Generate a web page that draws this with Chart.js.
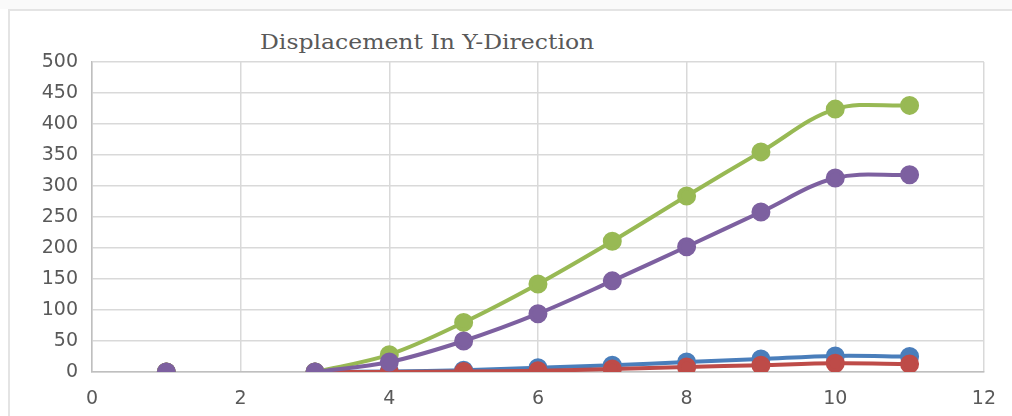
<!DOCTYPE html>
<html>
<head>
<meta charset="utf-8">
<script src="https://cdn.jsdelivr.net/npm/chart.js@4"></script>
<style>
  html, body { margin: 0; padding: 0; background: #fff; }
  #wrap { position: relative; width: 1012px; height: 416px; overflow: hidden; }
  #frame { position: absolute; left: 8px; top: 9px; right: -4px; bottom: -4px;
           border-top: 2px solid #e4e4e4; border-left: 2px solid #e4e4e4; }
  #band { position: absolute; left: 0; top: 0; width: 1012px; height: 9px; background: #fafafa; }
  #title { position: absolute; left: 260px; top: 30px; font-family: "DejaVu Serif", serif;
           font-size: 21px; color: #595959; white-space: nowrap;
           transform: scaleX(1.12); transform-origin: left top; }
  canvas { position: absolute; left: 0; top: 0; }
</style>
</head>
<body>
<div id="wrap">
  <div id="band"></div>
  <div id="frame"></div>
  <div id="title">Displacement In Y-Direction</div>
  <canvas id="chart" width="1012" height="416"></canvas>
</div>
<script>
// x positions (x = 2 has no value, so the point at 1 stands alone)
const xs = [1, 2, 3, 4, 5, 6, 7, 8, 9, 10, 11];
const blue   = [0, null, 0, 1, 3, 7, 11, 16, 21, 26, 25];
const red    = [0, null, 0, 0, 1, 2, 5, 8, 11, 14, 13];
const green  = [0, null, 0, 28, 80, 142, 211, 284, 355, 424, 430];
const purple = [0, null, 0, 16, 50, 94, 147, 202, 258, 313, 318];

const xTicks = [0, 2, 4, 6, 8, 10, 12];
const yTicks = [0, 50, 100, 150, 200, 250, 300, 350, 400, 450, 500];

function pts(vals) {
    return xs.map((x, i) => ({ x: x, y: vals[i] }));
}

function series(vals, color, order) {
    return {
        data: pts(vals),
        borderColor: color,
        backgroundColor: color,
        pointBackgroundColor: color,
        pointBorderColor: color,
        borderWidth: 4,
        pointRadius: 7.5,
        pointHoverRadius: 7.5,
        tension: 0.35,
        order: order
    };
}

const tickFont = { family: "DejaVu Sans", size: 19 };

new Chart(document.getElementById('chart'), {
    type: 'line',
    data: {
        datasets: [
            series(blue, '#4a7ebb', 4),
            series(red, '#be4b48', 3),
            series(green, '#98b954', 2),
            series(purple, '#7d60a0', 1)
        ]
    },
    options: {
        responsive: false,
        animation: false,
        layout: { padding: { left: 0, right: 27, top: 62, bottom: 0 } },
        plugins: { legend: { display: false }, tooltip: { enabled: false }, title: { display: false } },
        scales: {
            x: {
                type: 'linear',
                min: 0, max: 12,
                afterBuildTicks: s => { s.ticks = xTicks.map(v => ({ value: v })); },
                afterFit: s => { s.height = 44; },
                ticks: { color: '#595959', font: tickFont, padding: 16, maxRotation: 0 },
                grid: { color: '#d9d9d9', lineWidth: 1.5, drawTicks: false },
                border: { color: '#bfbfbf', width: 1.5 }
            },
            y: {
                min: 0, max: 500,
                afterBuildTicks: s => { s.ticks = yTicks.map(v => ({ value: v })); },
                afterFit: s => { s.width = 92; },
                ticks: { color: '#595959', font: tickFont, padding: 14 },
                grid: { color: '#d9d9d9', lineWidth: 1.5, drawTicks: false },
                border: { color: '#bfbfbf', width: 1.5 }
            }
        }
    }
});
</script>
</body>
</html>
